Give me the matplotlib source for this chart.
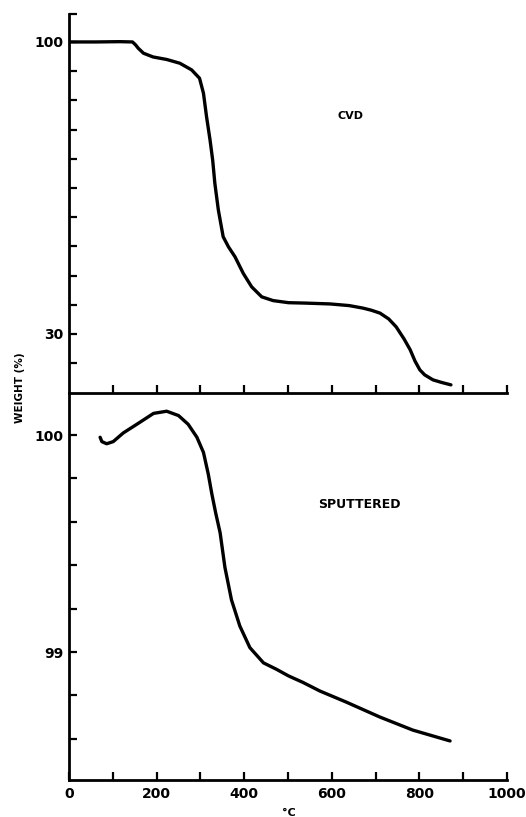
import numpy as np
import matplotlib
matplotlib.use('Agg')
import matplotlib.pyplot as plt

# CVD film, weight (%) vs temperature (°C)
cvd_temp = [0, 60, 116, 145, 152, 158, 170, 192, 223, 253, 280, 298, 307, 314, 322, 328,
            333, 341, 352, 364, 379, 398, 417, 440, 466, 501, 540, 596, 640, 671,
            690, 710, 730, 747, 765, 779, 790, 801, 812, 831, 850, 872]
cvd_weight = [100, 100, 100.07, 100.0, 99.3, 98.5, 97.3, 96.4, 95.8, 94.9, 93.3, 91.3,
              87.7, 82.1, 76.5, 71.7, 66.1, 59.7, 53.3, 50.9, 48.5, 44.5, 41.3, 38.9,
              38.0, 37.5, 37.4, 37.2, 36.8, 36.2, 35.7, 35.0, 33.6, 31.7, 28.8, 26.2,
              23.5, 21.4, 20.2, 19.0, 18.4, 17.8]

# sputtered film
sp_temp = [71, 75, 86, 101, 124, 155, 193, 223, 250, 272, 292, 307, 318, 326, 335,
           345, 356, 371, 390, 413, 444, 474, 501, 534, 573, 632, 710, 785, 870]
sp_weight = [99.99, 99.97, 99.96, 99.97, 100.01, 100.05, 100.10, 100.11, 100.09, 100.05,
             99.99, 99.92, 99.82, 99.73, 99.64, 99.55, 99.39, 99.24, 99.12, 99.02,
             98.95, 98.92, 98.89, 98.86, 98.82, 98.77, 98.70, 98.64, 98.59]

x_ticks = list(range(100, 1001, 100))

fig = plt.figure(figsize=(5.26, 8.17), dpi=100)
left, width = 69 / 526, 438 / 526
ax2 = fig.add_axes([left, 1 - 780 / 817, width, (780 - 393) / 817])
ax1 = fig.add_axes([left, 1 - 393 / 817, width, (393 - 14) / 817])
ax1.patch.set_visible(False)
ax2.patch.set_visible(False)

for ax in (ax1, ax2):
    for s in ('top', 'right'):
        ax.spines[s].set_visible(False)
    for s in ('left', 'bottom'):
        ax.spines[s].set_linewidth(2.0)
    ax.set_xlim(0, 1000)
    ax.tick_params(direction='in', width=1.6, length=6, pad=4)
    ax.set_xticks(x_ticks)

ax1.plot(cvd_temp, cvd_weight, color='black', lw=2.4,
         solid_capstyle='round', solid_joinstyle='round')
ax1.set_ylim(15.85, 106.7)
ax1.set_yticks([100 - 7 * k for k in range(12)] + [106.7])
ax1.set_yticklabels(['100'] + [''] * 9 + ['30', '', ''],
                    fontsize=10, fontweight='bold')
ax1.set_xticklabels([])
ax1.text(642, 82.3, 'CVD', fontsize=8, fontweight='bold', ha='center', va='center')

ax2.plot(sp_temp, sp_weight, color='black', lw=2.4,
         solid_capstyle='round', solid_joinstyle='round')
ax2.set_ylim(98.41, 100.194)
ax2.set_yticks([100 - 0.2 * k for k in range(8)])
ax2.set_yticklabels(['100', '', '', '', '', '99', '', ''], fontsize=10, fontweight='bold')
ax2.set_xticks([0] + x_ticks)
ax2.set_xticklabels(['0', '', '200', '', '400', '', '600', '', '800', '', '1000'],
                    fontsize=10, fontweight='bold')
ax2.tick_params(axis='x', pad=5)
ax2.text(662, 99.68, 'SPUTTERED', fontsize=9, fontweight='bold', ha='center', va='center')

fig.text(20 / 526, 1 - 388 / 817, 'WEIGHT (%)', rotation=90, fontsize=7.5,
         fontweight='bold', ha='center', va='center')
fig.text(289 / 526, 1 - 813 / 817, '°C', fontsize=8, fontweight='bold',
         ha='center', va='center')

fig.savefig('out.png', dpi=100)
